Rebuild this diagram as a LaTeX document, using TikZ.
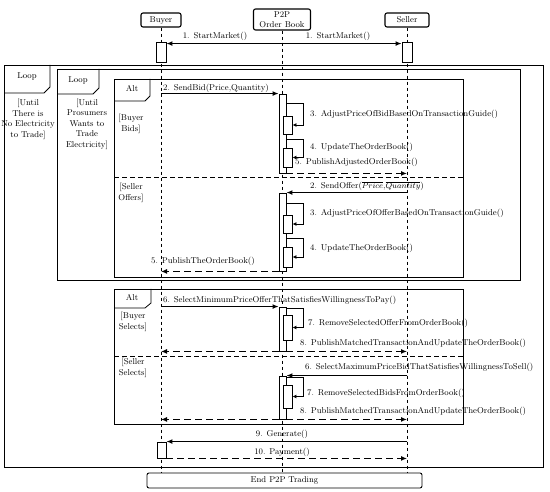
\documentclass[tikz,border=0pt]{standalone}
\usetikzlibrary{arrows.meta}
\begin{document}
\begin{tikzpicture}[>={Latex[length=6pt,width=5pt]}, x=1pt, y=-1pt]
        \tikzset{
            every node/.style={font=\fontsize{8.5}{10.5}\selectfont, inner sep=0pt},
            actor/.style={draw, rounded corners=2pt, line width=1.1pt, align=center, inner sep=1pt},
            act/.style={draw, fill=white, minimum width=7pt, inner sep=0pt, line width=0.9pt},
            subact/.style={act, minimum width=9pt},
            life/.style={dash pattern=on 3pt off 3pt, line width=0.8pt},
            frame/.style={line width=0.8pt},
            divider/.style={dash pattern=on 5pt off 3pt, line width=1pt},
            msg/.style={->, line width=1.1pt},
            ret/.style={->, dash pattern=on 7pt off 4pt, line width=1.1pt},
            self/.style={-{Latex[length=4pt,width=4pt]}, line width=0.9pt},
            lbl/.style={anchor=west},
            guard/.style={align=center}
        }
        \useasboundingbox (0,0) rectangle (550,492);

        \node[actor, minimum width=40pt, minimum height=14pt] (buyer) at (161,20) {Buyer};
        \node[actor, minimum width=57pt, minimum height=21pt] (book) at (282,19.5) {P2P\\Order Book};
        \node[actor, minimum width=44pt, minimum height=14pt] (seller) at (407,20) {Seller};
        \node[actor, minimum width=275pt, minimum height=15pt, line width=0.9pt] (endbox) at (284.5,480.5) {End P2P Trading};

        \draw[life] (buyer) -- (buyer |- endbox.north);
        \draw[life] (book) -- (book |- endbox.north);
        \draw[life] (seller) -- (seller |- endbox.north);

        % loops
        \draw[frame] (4,65) rectangle (543,467);
        \draw[frame] (4,93) -- (44,93) -- (50,87) -- (50,65);
        \node (loopa) at (27,76) {Loop};
        \node[guard] (guarda) at (28,119.5) {[Until\\There is\\No Electricity\\to Trade]};

        \draw[frame] (57,69) rectangle (520,280);
        \draw[frame] (57,94) -- (93,94) -- (99,88) -- (99,69);
        \node (loopb) at (78,80) {Loop};
        \node[guard] (guardb) at (87,124) {[Until\\Prosumers\\Wants to\\Trade\\Electricity]};

        % alt frames
        \draw[frame] (114,79) rectangle (463,277);
        \draw[frame] (114,101) -- (145,101) -- (150,96) -- (150,79);
        \node (alta) at (132,89) {Alt};
        \draw[divider] (114,178) -- (463,178);
        \node[guard] (guardc) at (131,124) {[Buyer\\Bids]};
        \node[guard] (guardd) at (131,193) {[Seller\\Offers]};

        \draw[frame] (114,289) rectangle (463,424);
        \draw[frame] (114,308) -- (145,308) -- (151,303) -- (151,289);
        \node (altb) at (132,298) {Alt};
        \draw[divider] (114,357) -- (463,357);
        \node[guard] (guarde) at (133,322) {[Buyer\\Selects]};
        \node[guard] (guardf) at (133,368) {[Seller\\Selects]};

        % activations
        \node[act, minimum width=10pt, minimum height=20pt] (buyact1) at (161,52) {};
        \node[act, minimum width=10pt, minimum height=20pt] (selleract) at (407,52) {};
        \node[act, minimum height=79pt] (bookact1) at (282.5,133.5) {};
        \node[subact, minimum height=18pt] (bookact1a) at (287.5,125) {};
        \node[subact, minimum height=19pt] (bookact1b) at (287.5,157.5) {};
        \node[act, minimum height=78pt] (bookact2) at (282.5,232) {};
        \node[subact, minimum height=18pt] (bookact2a) at (287.5,224) {};
        \node[subact, minimum height=20pt] (bookact2b) at (287.5,257) {};
        \node[act, minimum height=44pt] (bookact3) at (282.5,329) {};
        \node[subact, minimum height=25pt] (bookact3a) at (287.5,327.5) {};
        \node[act, minimum height=43pt] (bookact4) at (282.5,397.5) {};
        \node[subact, minimum height=23pt] (bookact4a) at (287.5,396.5) {};
        \node[act, minimum width=9pt, minimum height=16pt] (buyact2) at (161.5,450) {};

        % messages
        \draw[<->, line width=1.1pt] ([yshift=-2pt]buyact1.north east) -- ([yshift=-2pt]selleract.north west);
        \node (start1) at (215,36) {1. StartMarket()};
        \node (start2) at (338,36) {1. StartMarket()};

        \draw[msg] (buyer |- bookact1.north) -- (bookact1.north west);
        \node[lbl] (sendbid) at (163,88) {2. SendBid(Price,Quantity)};
        \draw[self] (bookact1a.north -| bookact1.east) ++(0,-12) -- ++(17,0) |- (bookact1a.east);
        \node[lbl] (adjustbid) at (310,114) {3. AdjustPriceOfBidBasedOnTransactionGuide()};
        \draw[self] (bookact1b.north -| bookact1.east) ++(0,-8) -- ++(17,0) |- (bookact1b.east);
        \node[lbl] (update1) at (310,147) {4. UpdateTheOrderBook()};
        \draw[ret] (bookact1.south east) -- (seller |- bookact1.south);
        \node[lbl] (publish1) at (295,162) {5. PublishAdjustedOrderBook()};

        \draw[msg] (seller |- bookact2.north) -- (bookact2.north east);
        \node[lbl] (sendoffer) at (310,186) {2. SendOffer($\overline{Price}$,$\overline{Quantity}$)};
        \draw[self] (bookact2a.north -| bookact2.east) ++(0,-11) -- ++(17,0) |- (bookact2a.east);
        \node[lbl] (adjustoffer) at (310,213) {3. AdjustPriceOfOfferBasedOnTransactionGuide()};
        \draw[self] (bookact2b.north -| bookact2.east) ++(0,-8) -- ++(17,0) |- (bookact2b.east);
        \node[lbl] (update2) at (310,248) {4. UpdateTheOrderBook()};
        \draw[ret] (bookact2.south west) -- (buyer |- bookact2.south);
        \node[lbl] (publish2) at (151,261) {5. PublishTheOrderBook()};

        \draw[msg] (buyer |- bookact3.north) -- (bookact3.north west);
        \node[lbl] (selectmin) at (163,300) {6. SelectMinimumPriceOfferThatSatisfiesWillingnessToPay()};
        \draw[self] (bookact3a.north -| bookact3.east) ++(0,-6) -- ++(17,0) |- (bookact3a.east);
        \node[lbl] (remove1) at (308,323) {7. RemoveSelectedOfferFromOrderBook()};
        \node[lbl] (match1) at (300,343) {8. PublishMatchedTransactionAndUpdateTheOrderBook()};
        \draw[ret] (bookact3.south west) -- (buyer |- bookact3.south);
        \draw[ret] (bookact3.south east) -- (seller |- bookact3.south);

        \draw[msg] (seller |- bookact4.north) -- (bookact4.north east);
        \node[lbl] (selectmax) at (305,367) {6. SelectMaximumPriceBidThatSatisfiesWillingnessToSell()};
        \draw[self] (bookact4a.north -| bookact4.east) ++(0,-7) -- ++(17,0) |- (bookact4a.east);
        \node[lbl] (remove2) at (307,393) {7. RemoveSelectedBidsFromOrderBook()};
        \node[lbl] (match2) at (300,411) {8. PublishMatchedTransactionAndUpdateTheOrderBook()};
        \draw[ret] (bookact4.south west) -- (buyer |- bookact4.south);
        \draw[ret] (bookact4.south east) -- (seller |- bookact4.south);

        \draw[msg] (seller |- buyact2.north) -- (buyact2.north east);
        \node (generate) at (282,434) {9. Generate()};
        \draw[ret] (buyact2.south east) -- (seller |- buyact2.south);
        \node (payment) at (282,452) {10. Payment()};
    \end{tikzpicture}
\end{document}
